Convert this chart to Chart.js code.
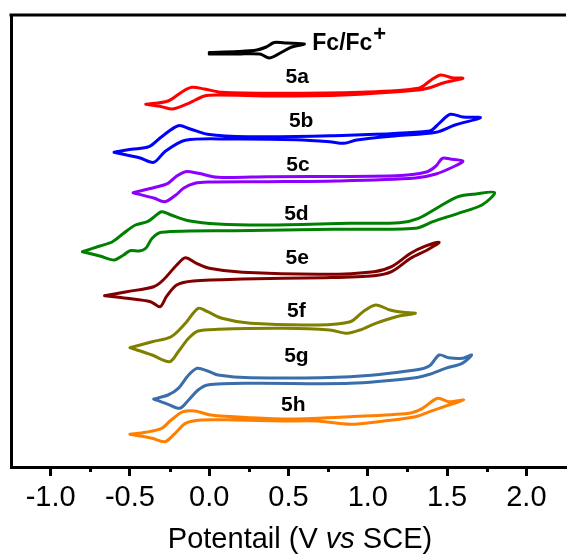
<!DOCTYPE html>
<html>
<head>
<meta charset="utf-8">
<title>CV curves</title>
<script src="https://cdn.jsdelivr.net/npm/chart.js@4.4.1/dist/chart.umd.min.js"></script>
<style>
  html, body { margin: 0; padding: 0; background: #fff; }
  #wrap { position: relative; width: 571px; height: 559px; }
</style>
</head>
<body>
<div id="wrap"><canvas id="cv"></canvas></div>
<script>
// potentials (V vs SCE) and stacked currents (arbitrary units), each loop traced
// along the forward sweep and back again
const fcE = [0.0, 0.18, 0.30, 0.36, 0.41, 0.49, 0.60, 0.52, 0.46, 0.38, 0.32, 0.18, 0.0];
const fcI = [414.5, 415.5, 417, 420, 424.5, 424, 423, 420, 415, 409, 413, 413, 413];

const c5aE = [-0.40, -0.26, -0.17, -0.11, -0.03, 0.08, 0.43, 0.95, 1.32, 1.40, 1.46, 1.53, 1.60, 1.49, 1.39, 1.32, 0.85, 0.41, 0.06, -0.03, -0.13, -0.23, -0.30, -0.40];
const c5aI = [362.7, 366, 375.3, 379.7, 378, 374.7, 373.7, 374.7, 378.7, 387, 392, 389.3, 388.7, 384.7, 379.3, 377, 372, 371, 372, 371, 363.7, 358, 360.3, 362.7];

const c5bE = [-0.60, -0.49, -0.38, -0.30, -0.195, -0.12, -0.01, 0.24, 0.76, 1.39, 1.45, 1.52, 1.60, 1.71, 1.55, 1.43, 1.18, 0.93, 0.85, 0.76, 0.55, 0.14, -0.15, -0.28, -0.35, -0.44, -0.60];
const c5bI = [314.7, 317.7, 320.3, 330.3, 341.3, 338, 332.7, 330.3, 331.3, 336, 343.7, 352.7, 350, 349.3, 342, 334.7, 331.3, 327, 323.7, 325.3, 327.3, 328, 326.7, 315.3, 304.7, 309.3, 314.7];

const c5cE = [-0.48, -0.34, -0.26, -0.21, -0.15, -0.07, 0.055, 0.37, 1.18, 1.37, 1.43, 1.47, 1.52, 1.60, 1.55, 1.43, 1.30, 0.80, 0.37, -0.01, -0.09, -0.16, -0.21, -0.28, -0.35, -0.48];
const c5cI = [274.3, 279.7, 283.7, 290.3, 295.3, 293.7, 289.7, 290.3, 291.3, 295, 301, 308.7, 308, 306, 301, 293, 289, 286, 285.3, 285, 283.7, 279, 272, 265.3, 269, 274.3];

const c5dE = [-0.80, -0.69, -0.61, -0.54, -0.465, -0.39, -0.35, -0.30, -0.24, -0.13, 0.055, 0.37, 0.89, 1.20, 1.32, 1.45, 1.57, 1.68, 1.80, 1.72, 1.57, 1.41, 1.30, 0.78, 0.16, -0.30, -0.36, -0.40, -0.44, -0.50, -0.54, -0.60, -0.69, -0.80];
const c5dI = [215.3, 221, 225.3, 233.7, 242, 245.3, 249.7, 255.3, 252, 246.3, 243, 242, 243.7, 244.3, 248.7, 260.3, 270.3, 273, 274.3, 262, 253.7, 245.3, 238.7, 237.7, 236.3, 234.7, 228.7, 218.7, 216, 216.3, 212, 207, 211, 215.3];

const c5eE = [-0.66, -0.52, -0.35, -0.29, -0.205, -0.15, -0.08, 0.0, 0.21, 0.73, 1.04, 1.15, 1.27, 1.355, 1.45, 1.375, 1.27, 1.15, 1.04, 0.73, 0.21, -0.10, -0.205, -0.27, -0.31, -0.37, -0.52, -0.66];
const c5eI = [171.3, 175.3, 180.3, 187, 202, 209.3, 203.7, 198.7, 194.7, 192.7, 195.3, 200.3, 213.7, 220.3, 224.7, 217, 208.7, 195.3, 191.3, 189.3, 188, 186, 182, 170.3, 160.3, 165.3, 168.7, 171.3];

const c5fE = [-0.50, -0.36, -0.24, -0.15, -0.07, -0.01, 0.08, 0.26, 0.68, 0.89, 0.97, 1.05, 1.14, 1.22, 1.30, 1.18, 1.05, 0.95, 0.87, 0.76, 0.47, 0.055, -0.07, -0.13, -0.195, -0.25, -0.36, -0.50];
const c5fI = [119.3, 125.3, 130.3, 143.7, 158.7, 155.3, 148.7, 143.7, 142, 145.3, 155.3, 162, 157, 154.7, 153.7, 150.3, 143.7, 137, 133.7, 137, 138.7, 137.7, 136, 128.7, 115.3, 105.3, 112, 119.3];

const c5gE = [-0.35, -0.26, -0.195, -0.13, -0.075, -0.01, 0.055, 0.26, 0.89, 1.30, 1.39, 1.45, 1.51, 1.595, 1.655, 1.595, 1.49, 1.39, 1.30, 0.89, 0.26, -0.01, -0.07, -0.13, -0.185, -0.26, -0.35];
const c5gI = [68, 72, 78.7, 92, 98.7, 96, 92, 89.3, 90.3, 97, 101.3, 112, 109.3, 108.7, 112, 103.7, 98.7, 92.7, 89.3, 83.7, 83.7, 82, 77, 67, 58.7, 62.7, 68];

const c5hE = [-0.50, -0.40, -0.30, -0.24, -0.165, -0.09, 0.01, 0.26, 0.51, 0.89, 1.26, 1.345, 1.44, 1.51, 1.605, 1.51, 1.39, 1.30, 1.10, 0.89, 0.68, 0.47, 0.16, -0.05, -0.15, -0.215, -0.28, -0.36, -0.50];
const c5hI = [32.7, 34.7, 38.7, 47, 55.3, 56, 52, 49.3, 48, 50.3, 53.7, 58.7, 68.7, 65.3, 67, 62, 55.3, 50.3, 46, 42.7, 46, 46, 47, 47, 43.7, 33.7, 25.3, 28.7, 32.7];

// compound labels, anchored in data units
const compoundNames = ['5a', '5b', '5c', '5d', '5e', '5f', '5g', '5h'];
const labelE = [0.555, 0.58, 0.56, 0.55, 0.555, 0.55, 0.55, 0.53];
const labelI = [389.5, 346, 302, 253, 209, 155.5, 111, 61.5];
const fcLabelE = 0.65;
const fcLabelI = 423.5;

// x axis ticks
const tickVals = [-1.25, -1.0, -0.75, -0.5, -0.25, 0.0, 0.25, 0.5, 0.75, 1.0, 1.25, 1.5, 1.75, 2.0, 2.25];

const curves = [
  {E: fcE, I: fcI, color: '#000000'},
  {E: c5aE, I: c5aI, color: '#ff0000'},
  {E: c5bE, I: c5bI, color: '#0000ff'},
  {E: c5cE, I: c5cI, color: '#8b00ff'},
  {E: c5dE, I: c5dI, color: '#008000'},
  {E: c5eE, I: c5eI, color: '#800000'},
  {E: c5fE, I: c5fI, color: '#808000'},
  {E: c5gE, I: c5gI, color: '#3a6eaa'},
  {E: c5hE, I: c5hI, color: '#ff8000'}
];

const FONT = '"Liberation Sans", Arial, Helvetica, sans-serif';

function isMajor(v) {
  return Math.abs(v * 2 - Math.round(v * 2)) < 1e-6 && v >= -1.0001 && v <= 2.0001;
}

const decorPlugin = {
  id: 'decor',
  afterDraw(chart) {
    const ctx = chart.ctx;
    const area = chart.chartArea;
    const x = chart.scales.x;
    const y = chart.scales.y;
    ctx.save();

    // top frame line
    ctx.strokeStyle = '#000';
    ctx.lineWidth = 3;
    ctx.beginPath();
    ctx.moveTo(area.left - 1.5, area.top);
    ctx.lineTo(area.right, area.top);
    ctx.stroke();

    // minor ticks
    tickVals.forEach(function(v) {
      if (isMajor(v) || v <= -1.25 || v >= 2.25) return;
      const px = Math.round(x.getPixelForValue(v)) + 0.5;
      ctx.beginPath();
      ctx.moveTo(px, area.bottom);
      ctx.lineTo(px, area.bottom + 5);
      ctx.stroke();
    });

    // compound labels
    ctx.fillStyle = '#000';
    ctx.textAlign = 'center';
    ctx.textBaseline = 'middle';
    ctx.font = 'bold 21px ' + FONT;
    compoundNames.forEach(function(t, i) {
      ctx.fillText(t, x.getPixelForValue(labelE[i]), y.getPixelForValue(labelI[i]));
    });

    // Fc/Fc+ label
    ctx.textAlign = 'left';
    ctx.font = 'bold 23px ' + FONT;
    const fx = x.getPixelForValue(fcLabelE);
    const fy = y.getPixelForValue(fcLabelI);
    ctx.fillText('Fc/Fc', fx, fy);
    const w = ctx.measureText('Fc/Fc').width;
    ctx.font = 'bold 22px ' + FONT;
    ctx.fillText('+', fx + w + 1, fy - 9);

    // axis title with italic "vs"
    const parts = [
      {t: 'Potentail (V ', f: '29px ' + FONT},
      {t: 'vs', f: 'italic 29px ' + FONT},
      {t: ' SCE)', f: '29px ' + FONT}
    ];
    let total = 0;
    parts.forEach(function(p) { ctx.font = p.f; p.w = ctx.measureText(p.t).width; total += p.w; });
    let cx = 300 - total / 2;
    ctx.textBaseline = 'alphabetic';
    parts.forEach(function(p) { ctx.font = p.f; ctx.fillText(p.t, cx, 548); cx += p.w; });

    ctx.restore();
  }
};

new Chart(document.getElementById('cv'), {
  type: 'scatter',
  data: {
    datasets: curves.map(function(c) {
      return {
        data: c.E.map(function(e, i) { return {x: e, y: c.I[i]}; }),
        showLine: true,
        borderColor: c.color,
        backgroundColor: c.color,
        borderWidth: 3,
        borderJoinStyle: 'round',
        borderCapStyle: 'round',
        pointRadius: 0,
        tension: 0.3,
        fill: false
      };
    })
  },
  options: {
    responsive: true,
    maintainAspectRatio: false,
    animation: false,
    layout: {padding: {top: 15, right: 0, bottom: 0, left: 0}},
    plugins: {legend: {display: false}, tooltip: {enabled: false}},
    scales: {
      x: {
        type: 'linear',
        min: -1.25,
        max: 2.25,
        afterBuildTicks: function(s) { s.ticks = tickVals.map(function(v) { return {value: v}; }); },
        afterFit: function(s) { s.height = 92; },
        border: {display: true, color: '#000', width: 3},
        grid: {
          display: true,
          drawOnChartArea: false,
          drawTicks: true,
          tickLength: 9,
          tickWidth: 3,
          tickColor: function(c) { return c.tick && isMajor(c.tick.value) ? '#000' : 'rgba(0,0,0,0)'; }
        },
        ticks: {
          autoSkip: false,
          maxRotation: 0,
          minRotation: 0,
          padding: 5,
          color: '#000',
          font: {family: FONT, size: 29},
          callback: function(v) { return isMajor(v) ? Number(v).toFixed(1) : ''; }
        }
      },
      y: {
        type: 'linear',
        min: 0,
        max: 452,
        afterFit: function(s) { s.width = 11; },
        border: {display: true, color: '#000', width: 3},
        grid: {display: false, drawTicks: false},
        ticks: {display: false}
      }
    }
  },
  plugins: [decorPlugin]
});
</script>
</body>
</html>
